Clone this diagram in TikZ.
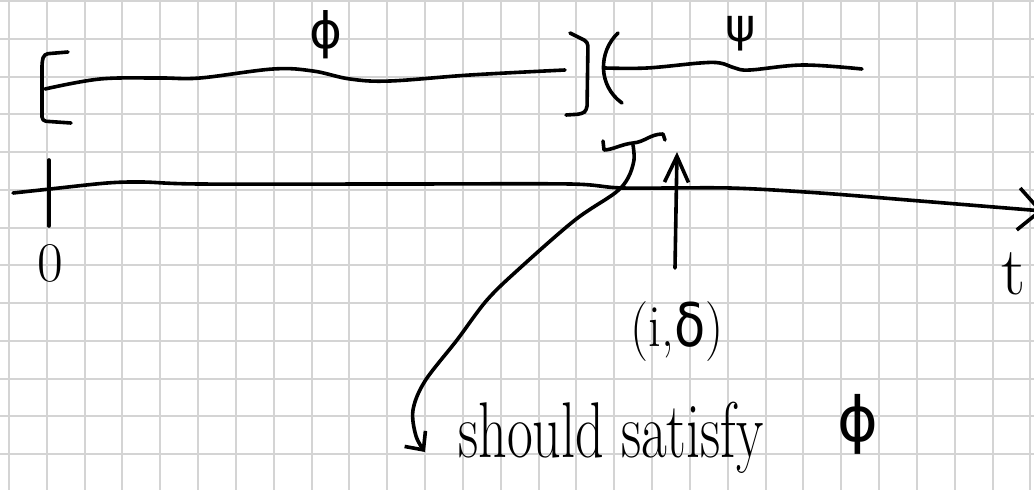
\RequirePackage{fix-cm}
\documentclass[tikz,border=0pt]{standalone}
\usepackage{fontspec}
\newfontfamily\grk{DejaVu Sans}
\usetikzlibrary{arrows.meta}
\tikzset{
    pen/.style={color=black, line width=3.6pt, line cap=round, line join=round},
    gridline/.style={color=black!17, line width=2pt},
    lbl/.style={inner sep=0pt},
    barb/.style args={#1:#2}{-{Straight Barb[length=#1, width=#2]}}
}
\newcommand{\fsz}[1]{\fontsize{#1}{#1}\selectfont}

\begin{document}
\begin{tikzpicture}[x=1pt, y=-1pt]
    \useasboundingbox (0,0) rectangle (1034,490);
    \fill[white] (0,0) rectangle (1034,490);
    % squared paper
    \foreach \i in {0,...,27}
        \draw[gridline] ({9+37.83*\i},0) -- ({9+37.83*\i},490);
    \foreach \j in {0,...,12}
        \draw[gridline] (0,{1+37.75*\j}) -- (1034,{1+37.75*\j});
    % interval for phi
    \draw[pen, rounded corners=4pt] (68,52) -- (44,54) -- (42,62) -- (42,121) -- (71,123);
    \draw[pen] plot[smooth, tension=0.6] coordinates {(45,89) (100,79) (160,78) (200,78) (273,69) (313,71) (350,79) (390,81) (470,75) (565,70)};
    \draw[pen, rounded corners=4pt] (570,33) -- (588,42) -- (587,110) -- (582,114) -- (566,115);
    \node[lbl, font=\fsz{50}\grk] (phitop) at (326,35) {ϕ};
    % interval for psi
    \draw[pen] (618,33) .. controls (598,52) and (598,86) .. (622,103);
    \draw[pen] plot[smooth, tension=0.6] coordinates {(605,68) (647,68) (700,63) (720,63) (735,68) (750,70) (803,65) (862,69)};
    \node[lbl, font=\fsz{46}\grk] (psi) at (741,34) {ψ};
    % time line
    \draw[pen, barb=22pt:42pt] plot[smooth, tension=0.5] coordinates {(13,193) (50,189) (107,183) (143,182) (200,184) (400,184) (570,184) (623,188) (730,188) (820,193) (920,201) (1043,211)};
    \draw[pen] (49,160) -- (49,226);
    \node[lbl, font=\fsz{56}] (zero) at (50,263) {0};
    \node[lbl, font=\fsz{68}] (t) at (1014,274) {t};
    % the point (i,delta)
    \node[lbl, font=\fsz{60}] (pt) at (677,332) {\scalebox{0.85}[1]{(i,{\grk δ})}};
    \coordinate (pt foot) at (675,268);
    \draw[pen, barb=26pt:24pt] (pt foot) -- (677,152);
    % small brace and the remark
    \draw[pen] (603,141) -- (604,150) .. controls (612,150) and (622,144) .. (633,143)
        .. controls (645,142) and (650,134) .. (663,134) -- (665,140);
    \coordinate (brace) at (633,145);
    \node[lbl, anchor=base west, font=\fsz{79}] (satisfy) at (458,457) {\scalebox{0.71}[1]{should satisfy}};
    \node[lbl, font=\fsz{62}\grk] (phibot) at (858,424) {ϕ};
    \draw[pen, barb=14pt:26pt] plot[smooth, tension=0.55] coordinates {(brace) (634,160) (628,178) (615,193) (575,220) (520,268) (487,300) (457,340) (425,381) (413,410) (416,436) (425,452)};
\end{tikzpicture}
\end{document}
